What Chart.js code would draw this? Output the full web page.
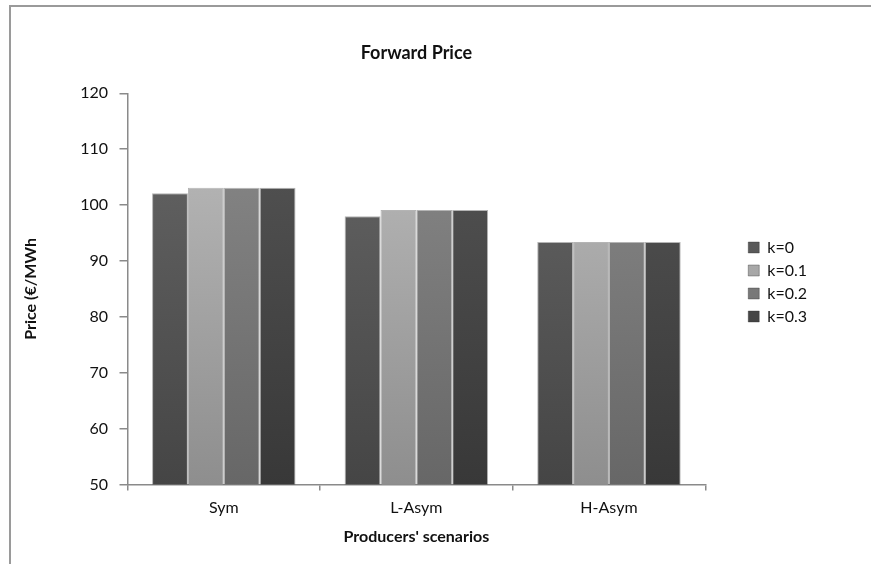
<!DOCTYPE html>
<html>
<head>
<meta charset="utf-8">
<script src="https://cdn.jsdelivr.net/npm/chart.js@4/dist/chart.umd.min.js"></script>
<style>
    html, body { margin: 0; padding: 0; background: #fff; overflow: hidden; }
    #wrap { position: relative; width: 871px; height: 564px; }
    #frame {
        position: absolute; left: 9px; top: 5px; width: 900px; height: 600px;
        border-top: 2px solid #9a9a9a; border-left: 2px solid #9a9a9a;
    }
    canvas { position: absolute; left: 0; top: 0; }
</style>
</head>
<body>
<div id="wrap">
    <div id="frame"></div>
    <canvas id="chart" width="871" height="564"></canvas>
</div>
<script>
// Producers' scenarios on the x axis
const categories = ["Sym", "L-Asym", "H-Asym"];

// One series per k value (price in €/MWh)
const seriesNames = ["k=0", "k=0.1", "k=0.2", "k=0.3"];
const priceK0 = [102.1, 98.0, 93.4];
const priceK01 = [103.1, 99.1, 93.4];
const priceK02 = [103.1, 99.1, 93.4];
const priceK03 = [103.1, 99.1, 93.4];

// Y axis range
const yMin = 50;
const yMax = 120;
const yStep = 10;

// top / bottom shade of each series (gray bevel look)
const shades = [
    ["#676767", "#454545"],
    ["#bdbdbd", "#8e8e8e"],
    ["#8a8a8a", "#676767"],
    ["#565656", "#383838"],
];

const gradCache = {};
function barFill(i) {
    return (ctx) => {
        const area = ctx.chart.chartArea;
        if (!area) return shades[i][0];
        const key = i + ":" + area.top + ":" + area.bottom;
        if (!gradCache[key]) {
            const g = ctx.chart.ctx.createLinearGradient(0, area.top, 0, area.bottom);
            g.addColorStop(0, shades[i][0]);
            g.addColorStop(1, shades[i][1]);
            gradCache[key] = g;
        }
        return gradCache[key];
    };
}

const allSeries = [priceK0, priceK01, priceK02, priceK03];
const datasets = allSeries.map((values, i) => ({
    label: seriesNames[i],
    data: values,
    backgroundColor: barFill(i),
    borderColor: "rgba(40,40,40,0.35)",
    borderWidth: 1,
    categoryPercentage: 0.745,
    barPercentage: 1.0,
}));

const font = "Lato";

new Chart(document.getElementById("chart"), {
    type: "bar",
    data: { labels: categories, datasets: datasets },
    options: {
        responsive: false,
        animation: false,
        layout: { padding: { top: 0, right: 54, bottom: 0, left: 0 } },
        scales: {
            x: {
                grid: {
                    display: true,
                    drawOnChartArea: false,
                    offset: true,
                    tickLength: 6,
                    color: "#8a8a8a",
                    lineWidth: 1.5,
                },
                border: { color: "#8a8a8a", width: 1.5 },
                ticks: { font: { family: font, size: 16 }, color: "#111", padding: 8 },
                title: {
                    display: true,
                    text: "Producers' scenarios",
                    font: { family: font, size: 16, weight: "bold" },
                    color: "#111",
                    padding: { top: 0, bottom: 18 },
                },
                afterFit: (s) => { s.height = 79.5; },
            },
            y: {
                min: yMin,
                max: yMax,
                ticks: { stepSize: yStep, font: { family: font, size: 16 }, color: "#111", padding: 11.5 },
                grid: {
                    display: true,
                    drawOnChartArea: false,
                    tickLength: 8,
                    color: "#8a8a8a",
                    lineWidth: 1.5,
                },
                border: { color: "#8a8a8a", width: 1.5 },
                title: {
                    display: true,
                    text: "Price (€/MWh",
                    font: { family: font, size: 16, weight: "bold" },
                    color: "#111",
                    padding: { top: 21, bottom: 0 },
                },
                afterFit: (s) => { s.width = 127.5; },
            },
            // empty spacer between plot and legend
            gap: {
                type: "linear",
                position: "right",
                display: true,
                grid: { display: false },
                ticks: { display: false },
                border: { display: false },
                afterFit: (s) => { s.width = 36; },
            },
        },
        plugins: {
            title: {
                display: true,
                text: "Forward Price",
                fullSize: false,
                font: { family: font, size: 18, weight: "bold" },
                color: "#111",
                padding: { top: 42.2, bottom: 29.5 },
            },
            legend: {
                position: "right",
                align: "center",
                labels: {
                    font: { family: font, size: 16 },
                    color: "#111",
                    boxWidth: 11,
                    boxHeight: 11,
                    padding: 7,
                },
            },
            tooltip: { enabled: false },
        },
    },
});
</script>
</body>
</html>
